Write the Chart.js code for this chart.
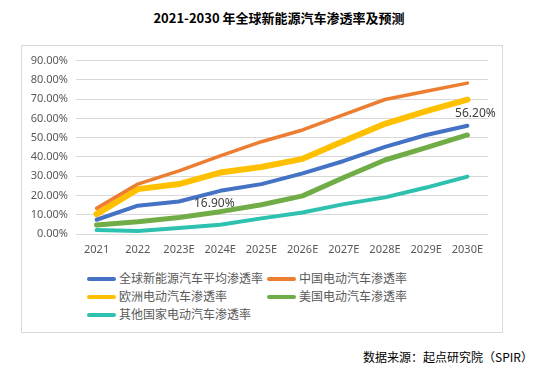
<!DOCTYPE html>
<html>
<head>
<meta charset="utf-8">
<script src="https://cdn.jsdelivr.net/npm/chart.js@4/dist/chart.umd.min.js"></script>
<style>
  body { margin: 0; width: 545px; height: 368px; background: #fff; position: relative; overflow: hidden;
         font-family: "Noto Sans CJK SC", "Noto Sans", sans-serif; }
  #title { position: absolute; left: 0; width: 558px; top: 8px; text-align: center;
           font-size: 13px; font-weight: bold; color: #000; }
  #box { position: absolute; left: 21px; top: 45px; width: 480px; height: 286px; border: 1px solid #d9d9d9; }
  #chartWrap { position: absolute; left: 0; top: 0; width: 480px; height: 215px; }
  #legend { position: absolute; left: 65px; top: 223px; width: 400px; }
  .item { position: absolute; font-size: 12px; color: #595959; line-height: 18px; white-space: nowrap; }
  .swatch { display: inline-block; width: 29px; height: 4px; border-radius: 2px; vertical-align: middle;
            margin-right: 3px; position: relative; top: -1px; }
  #source { position: absolute; right: 12px; top: 348px; font-size: 12px; color: #000; }
</style>
</head>
<body>
<div id="title">2021-2030 年全球新能源汽车渗透率及预测</div>
<div id="box">
  <div id="chartWrap"><canvas id="myChart" width="480" height="215"></canvas></div>
  <div id="legend"></div>
</div>
<div id="source">数据来源：起点研究院（SPIR）</div>
<script>
// Categories and series (percent)
const years = ['2021', '2022', '2023E', '2024E', '2025E', '2026E', '2027E', '2028E', '2029E', '2030E'];
const globalAvg = [7.4, 14.7, 16.9, 22.4, 25.9, 31.5, 37.9, 45.2, 51.4, 56.2];
const chinaEv = [13.3, 25.9, 32.8, 40.5, 47.9, 54.0, 62.0, 69.8, 74.1, 78.3];
const europeEv = [10.3, 23.3, 25.9, 31.9, 34.8, 39.0, 48.3, 57.2, 63.8, 69.8];
const usaEv = [4.7, 6.4, 8.6, 11.6, 15.2, 19.8, 29.3, 38.4, 44.8, 51.4];
const otherEv = [2.1, 1.6, 3.1, 4.8, 8.1, 11.2, 15.5, 19.0, 24.1, 29.8];
const yTicks = [0, 10, 20, 30, 40, 50, 60, 70, 80, 90];

// Which points of the global series carry a label
const labelledPoints = [2, 9];

const labelPlugin = {
    id: 'pointLabels',
    afterDatasetsDraw(chart) {
        const c = chart.ctx;
        const meta = chart.getDatasetMeta(0);
        c.save();
        c.font = '12px "Noto Sans", sans-serif';
        c.fillStyle = '#404040';
        c.textBaseline = 'middle';
        labelledPoints.forEach((i) => {
            const pt = meta.data[i];
            const text = globalAvg[i].toFixed(2) + '%';
            if (i === years.length - 1) {
                c.textAlign = 'center';
                c.fillText(text, pt.x + 8, pt.y - 12);
            } else {
                c.textAlign = 'left';
                c.fillText(text, pt.x + 15, pt.y + 2);
            }
        });
        c.restore();
    }
};

const ctx = document.getElementById('myChart').getContext('2d');
const myChart = new Chart(ctx, {
    type: 'line',
    data: {
        labels: years,
        datasets: [
            { label: '全球新能源汽车平均渗透率', data: globalAvg, borderColor: '#4472C4', borderWidth: 4 },
            { label: '中国电动汽车渗透率', data: chinaEv, borderColor: '#ED7D31', borderWidth: 3.5 },
            { label: '欧洲电动汽车渗透率', data: europeEv, borderColor: '#FFC000', borderWidth: 6 },
            { label: '美国电动汽车渗透率', data: usaEv, borderColor: '#70AD47', borderWidth: 5 },
            { label: '其他国家电动汽车渗透率', data: otherEv, borderColor: '#2EC1B0', borderWidth: 4 },
        ].map((d) => Object.assign(d, { pointRadius: 0, tension: 0, fill: false, borderCapStyle: 'round', borderJoinStyle: 'round' })),
    },
    options: {
        responsive: false,
        animation: false,
        layout: { padding: { top: 14, right: 14, left: 0, bottom: 0 } },
        plugins: { legend: { display: false }, tooltip: { enabled: false } },
        scales: {
            x: {
                offset: true,
                grid: { display: false, drawTicks: false },
                border: { display: false },
                ticks: { color: '#595959', font: { size: 11, family: '"Noto Sans", sans-serif' }, padding: 9, maxRotation: 0 },
                afterFit: (scale) => { scale.height = 27; },
            },
            y: {
                min: 0,
                max: 90,
                afterBuildTicks: (scale) => { scale.ticks = yTicks.map((v) => ({ value: v })); },
                grid: { color: '#d9d9d9', drawTicks: false },
                border: { display: false },
                ticks: {
                    color: '#595959',
                    font: { size: 11, family: '"Noto Sans", sans-serif' },
                    padding: 8,
                    callback: (v) => v.toFixed(2) + '%',
                },
                afterFit: (scale) => { scale.width = 54; },
            },
        },
    },
    plugins: [labelPlugin],
});

// Legend in two columns, built from the datasets
const legend = document.getElementById('legend');
myChart.data.datasets.forEach((ds, i) => {
    const item = document.createElement('div');
    item.className = 'item';
    item.style.left = (i % 2 === 0 ? 0 : 180) + 'px';
    item.style.top = (Math.floor(i / 2) * 18) + 'px';
    item.innerHTML = `<span class="swatch" style="background:${ds.borderColor}"></span>${ds.label}`;
    legend.appendChild(item);
});
</script>
</body>
</html>
